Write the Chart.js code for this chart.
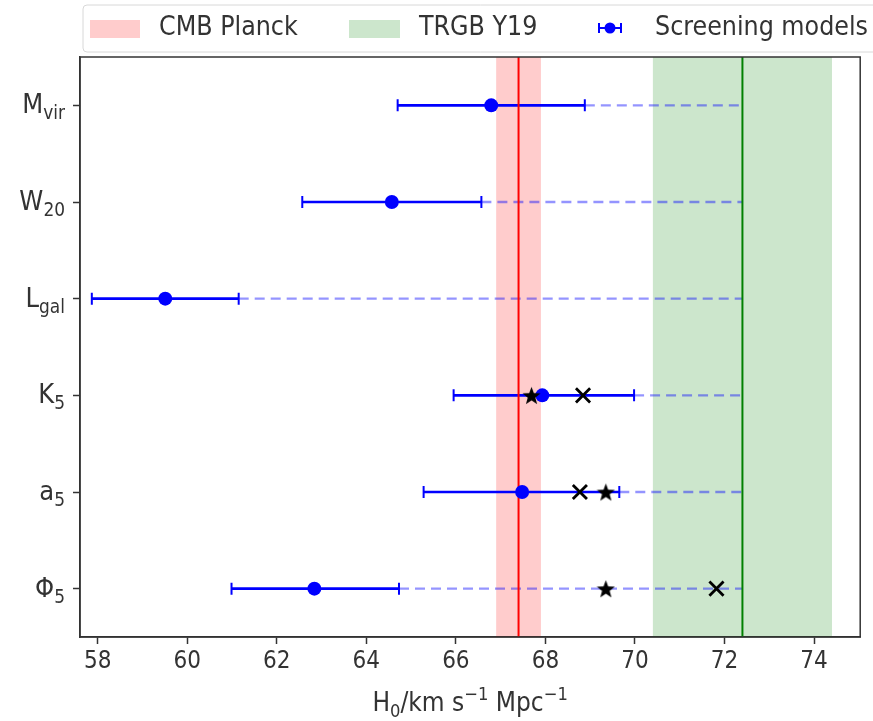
<!DOCTYPE html>
<html>
<head>
<meta charset="utf-8">
<script src="https://cdn.jsdelivr.net/npm/chart.js@4"></script>
<style>
  html, body { margin: 0; padding: 0; background: #fff; }
  #wrap { width: 873px; height: 721px; }
</style>
</head>
<body>
<div id="wrap"><canvas id="chart" width="873" height="721"></canvas></div>
<script>
// rows, top to bottom
const rowMain = ['M', 'W', 'L', 'K', 'a', 'Φ'];
const rowSub = ['vir', '20', 'gal', '5', '5', '5'];
const h0Mean = [66.79, 64.57, 59.51, 67.93, 67.48, 62.84];
const h0Lo = [64.70, 62.57, 57.87, 65.95, 65.28, 60.99];
const h0Hi = [68.88, 66.57, 61.15, 69.98, 69.65, 64.73];
const starX = [null, null, null, 67.69, 69.35, 69.35];
const crossX = [null, null, null, 68.84, 68.77, 71.82];
const planck = [67.4, 0.5];   // CMB Planck: mean, half width
const trgb = [72.4, 2.0];     // TRGB Y19: mean, half width
const xTicks = [58, 60, 62, 64, 66, 68, 70, 72, 74];

const FONT = '"DejaVu Sans Condensed", "DejaVu Sans", sans-serif';
const nRows = rowMain.length;
const rowY = i => nRows - 1 - i;

// filled five point star for the markers
function makeStar(size) {
    const c = document.createElement('canvas');
    c.width = size; c.height = size;
    const g = c.getContext('2d');
    const r1 = size / 2, r2 = r1 * 0.42;
    g.beginPath();
    for (let k = 0; k < 10; k++) {
        const r = k % 2 ? r2 : r1;
        const a = -Math.PI / 2 + k * Math.PI / 5;
        g.lineTo(size / 2 + r * Math.cos(a), size / 2 + 1 + r * Math.sin(a));
    }
    g.closePath();
    g.fillStyle = '#000';
    g.fill();
    return c;
}
const starImg = makeStar(19);

const datasets = [];

// X and star markers on top
datasets.push({
    data: crossX.map((x, i) => x === null ? null : { x, y: rowY(i) }).filter(Boolean),
    pointStyle: 'crossRot', pointRadius: 10, borderColor: '#000', pointBorderWidth: 2.8,
    backgroundColor: '#000', showLine: false
});
datasets.push({
    data: starX.map((x, i) => x === null ? null : { x, y: rowY(i) }).filter(Boolean),
    pointStyle: starImg, showLine: false
});
// mean points
datasets.push({
    data: h0Mean.map((x, i) => ({ x, y: rowY(i) })),
    pointStyle: 'circle', pointRadius: 7, backgroundColor: '#0000ff', borderColor: '#0000ff',
    pointBorderWidth: 0, showLine: false
});
// vertical mean lines
datasets.push({
    data: [{ x: planck[0], y: -0.5 }, { x: planck[0], y: 5.5 }],
    showLine: true, borderColor: '#ff0000', borderWidth: 2, pointRadius: 0
});
datasets.push({
    data: [{ x: trgb[0], y: -0.5 }, { x: trgb[0], y: 5.5 }],
    showLine: true, borderColor: '#008000', borderWidth: 2, pointRadius: 0
});
// error bars with caps
h0Mean.forEach((m, i) => {
    datasets.push({
        data: [{ x: h0Lo[i], y: rowY(i) }, { x: h0Hi[i], y: rowY(i) }],
        showLine: true, borderColor: '#0000ff', borderWidth: 2.6,
        pointStyle: 'line', rotation: 90, pointRadius: 6, pointBorderWidth: 2,
        pointBorderColor: '#0000ff'
    });
});
// dashed guides to TRGB
h0Mean.forEach((m, i) => {
    datasets.push({
        data: [{ x: h0Hi[i], y: rowY(i) }, { x: trgb[0], y: rowY(i) }],
        showLine: true, borderColor: 'rgba(0,0,255,0.42)', borderWidth: 2.4,
        borderDash: [10, 6], pointRadius: 0
    });
});

const bandsPlugin = {
    id: 'bands',
    beforeDatasetsDraw(chart) {
        const { ctx, chartArea: a, scales: { x } } = chart;
        ctx.save();
        ctx.fillStyle = 'rgba(255,0,0,0.2)';
        let l = x.getPixelForValue(planck[0] - planck[1]), r = x.getPixelForValue(planck[0] + planck[1]);
        ctx.fillRect(l, a.top, r - l, a.bottom - a.top);
        ctx.fillStyle = 'rgba(0,128,0,0.2)';
        l = x.getPixelForValue(trgb[0] - trgb[1]); r = x.getPixelForValue(trgb[0] + trgb[1]);
        ctx.fillRect(l, a.top, r - l, a.bottom - a.top);
        ctx.restore();
    }
};

// draws runs of [text, kind] where kind is 'n', 'sub' or 'sup'
function drawRich(ctx, parts, x, y, size) {
    let cx = x;
    parts.forEach(([t, k]) => {
        const s = k === 'n' ? size : size * 0.7;
        ctx.font = s + 'px ' + FONT;
        const dy = k === 'sub' ? size * 0.3 : k === 'sup' ? -size * 0.35 : 0;
        ctx.fillText(t, cx, y + dy);
        cx += ctx.measureText(t).width;
    });
    return cx - x;
}
function richWidth(ctx, parts, size) {
    let w = 0;
    parts.forEach(([t, k]) => {
        ctx.font = (k === 'n' ? size : size * 0.7) + 'px ' + FONT;
        w += ctx.measureText(t).width;
    });
    return w;
}

const framePlugin = {
    id: 'frame',
    afterDraw(chart) {
        const { ctx, chartArea: a, scales: { y } } = chart;
        ctx.save();
        ctx.strokeStyle = '#333';
        ctx.lineWidth = 1.5;
        ctx.strokeRect(a.left, a.top, a.right - a.left, a.bottom - a.top);

        ctx.fillStyle = '#333';
        ctx.textBaseline = 'middle';
        // y labels with subscripts
        rowMain.forEach((m, i) => {
            const py = y.getPixelForValue(rowY(i));
            const parts = [[m, 'n'], [rowSub[i], 'sub']];
            const w = richWidth(ctx, parts, 27);
            drawRich(ctx, parts, a.left - 15 - w, py + 1, 27);
        });

        // x axis title
        const tparts = [['H', 'n'], ['0', 'sub'], ['/km s', 'n'], ['−1', 'sup'], [' Mpc', 'n'], ['−1', 'sup']];
        const tw = richWidth(ctx, tparts, 26);
        drawRich(ctx, tparts, (a.left + a.right) / 2 - tw / 2, 704, 26);

        // legend
        const lx = 83, ly = 5, lw = 800, lh = 47;
        ctx.beginPath();
        ctx.roundRect(lx, ly, lw, lh, 4);
        ctx.fillStyle = 'rgba(255,255,255,0.85)';
        ctx.fill();
        ctx.strokeStyle = '#d8d8d8';
        ctx.lineWidth = 1;
        ctx.stroke();
        ctx.fillStyle = 'rgba(255,0,0,0.2)';
        ctx.fillRect(90, 20, 50, 18);
        ctx.fillStyle = 'rgba(0,128,0,0.2)';
        ctx.fillRect(349, 20, 51, 18);
        ctx.strokeStyle = '#0000ff';
        ctx.lineWidth = 2;
        ctx.beginPath();
        ctx.moveTo(598, 28); ctx.lineTo(622, 28);
        ctx.moveTo(599, 23); ctx.lineTo(599, 33);
        ctx.moveTo(621, 23); ctx.lineTo(621, 33);
        ctx.stroke();
        ctx.fillStyle = '#0000ff';
        ctx.beginPath();
        ctx.arc(610, 28, 5.5, 0, Math.PI * 2);
        ctx.fill();
        ctx.fillStyle = '#333';
        ctx.font = '26.5px ' + FONT;
        ctx.textBaseline = 'middle';
        ctx.fillText('CMB Planck', 159, 28);
        ctx.fillText('TRGB Y19', 419, 28);
        ctx.fillText('Screening models', 655, 28);
        ctx.restore();
    }
};

new Chart(document.getElementById('chart'), {
    type: 'scatter',
    data: { datasets },
    options: {
        responsive: false,
        animation: false,
        layout: { padding: { top: 57, right: 10, left: 0, bottom: 0 } },
        plugins: { legend: { display: false }, tooltip: { enabled: false } },
        scales: {
            x: {
                type: 'linear',
                min: 57.606, max: 75.03,
                afterBuildTicks: s => { s.ticks = xTicks.map(v => ({ value: v })); },
                afterFit: s => { s.height = 84; s.paddingRight = 0; s.paddingLeft = 0; },
                border: { display: true, color: '#333', width: 1.5 },
                grid: { display: true, drawOnChartArea: false, drawTicks: true, tickLength: 7, color: '#333', tickWidth: 1.5 },
                ticks: { color: '#333', font: { family: FONT, size: 24 }, padding: 3, maxRotation: 0 },
                title: { display: false }
            },
            y: {
                type: 'linear',
                min: -0.5, max: 5.5,
                afterBuildTicks: s => { s.ticks = rowMain.map((m, i) => ({ value: rowY(i) })); },
                afterFit: s => { s.width = 80; s.paddingTop = 0; s.paddingBottom = 0; },
                border: { display: true, color: '#333', width: 1.5 },
                grid: { display: true, drawOnChartArea: false, drawTicks: true, tickLength: 7, color: '#333', tickWidth: 1.5 },
                ticks: { callback: () => '', font: { size: 1 } }
            }
        }
    },
    plugins: [bandsPlugin, framePlugin]
});
</script>
</body>
</html>
